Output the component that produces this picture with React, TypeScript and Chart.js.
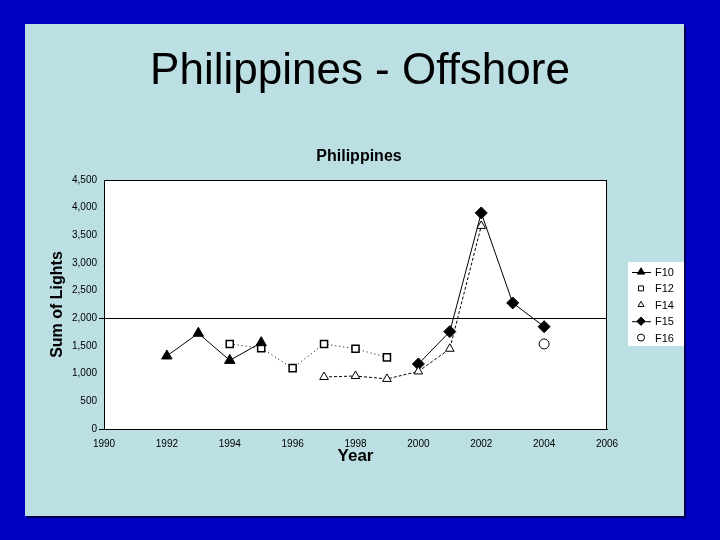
import React, { useEffect, useRef } from 'react';
import { Chart, registerables } from 'chart.js';
import { drawPoint } from 'chart.js/helpers';

Chart.register(...registerables);

const slideTitle = 'Philippines - Offshore';
const chartTitle = 'Philippines';
const xTitle = 'Year';
const yTitle = 'Sum of Lights';

const years10 = [1992, 1993, 1994, 1995];
const f10 = [1320, 1730, 1240, 1560];
const years12 = [1994, 1995, 1996, 1997, 1998, 1999];
const f12 = [1537, 1460, 1100, 1537, 1450, 1295];
const years14 = [1997, 1998, 1999, 2000, 2001, 2002];
const f14 = [940, 958, 905, 1040, 1450, 3670];
const years15 = [2000, 2001, 2002, 2003, 2004];
const f15 = [1175, 1760, 3905, 2278, 1850];
const years16 = [2004];
const f16 = [1537];

const seriesNames = ['F10', 'F12', 'F14', 'F15', 'F16'];

const toPts = (xs: number[], ys: number[]) => xs.map((x, i) => ({ x, y: ys[i] }));

const BLUE = '#0000C4';
const PANEL = '#BCDFE3';

const App = () => {
  const ref = useRef<HTMLCanvasElement | null>(null);

  useEffect(() => {
    document.body.style.margin = '0';
    const canvas = ref.current;
    if (!canvas) return;

    const bgPlugin = {
      id: 'slideBg',
      beforeDraw(chart: any) {
        const { ctx, chartArea } = chart;
        ctx.save();
        ctx.fillStyle = BLUE;
        ctx.fillRect(0, 0, 720, 540);
        ctx.fillStyle = '#000050';
        ctx.fillRect(27, 26, 659, 492);
        ctx.fillStyle = PANEL;
        ctx.fillRect(25, 24, 659, 492);
        ctx.fillStyle = '#ffffff';
        ctx.fillRect(chartArea.left, chartArea.top, chartArea.right - chartArea.left, chartArea.bottom - chartArea.top);
        ctx.fillStyle = '#000';
        ctx.textAlign = 'center';
        ctx.textBaseline = 'alphabetic';
        ctx.font = '44px "Liberation Sans", Arial, sans-serif';
        ctx.fillText(slideTitle, 360, 84);
        ctx.font = 'bold 16px "Liberation Sans", Arial, sans-serif';
        ctx.fillText(chartTitle, 359, 161);
        ctx.restore();
      },
      afterDraw(chart: any) {
        const { ctx, chartArea } = chart;
        ctx.save();
        ctx.strokeStyle = '#000';
        ctx.lineWidth = 1;
        ctx.strokeRect(chartArea.left + 0.5, chartArea.top + 0.5, chartArea.right - chartArea.left - 1, chartArea.bottom - chartArea.top);
        // legend
        const lx = 628, ly = 262, lw = 56, lh = 84;
        ctx.fillStyle = '#ffffff';
        ctx.fillRect(lx, ly, lw, lh);
        ctx.font = '11px "Liberation Sans", Arial, sans-serif';
        ctx.textAlign = 'left';
        ctx.textBaseline = 'middle';
        chart.data.datasets.forEach((ds: any, i: number) => {
          const cy = ly + 10 + i * 16.4;
          const cx = 641;
          ctx.strokeStyle = '#000';
          ctx.lineWidth = 1;
          if (ds.legendLine) {
            ctx.beginPath();
            ctx.moveTo(632, cy + 0.5);
            ctx.lineTo(651, cy + 0.5);
            ctx.stroke();
          }
          ctx.fillStyle = ds.pointBackgroundColor;
          ctx.strokeStyle = '#000';
          drawPoint(ctx, { pointStyle: ds.pointStyle, radius: ds.pointRadius * 0.7, rotation: 0, borderWidth: 1 } as any, cx, cy);
          ctx.fillStyle = '#000';
          ctx.fillText(ds.label, 655, cy + 1);
        });
        ctx.restore();
      },
    };

    const tickFont = { family: '"Liberation Sans", Arial, sans-serif', size: 10 };

    const chart = new Chart(canvas, {
      type: 'line',
      data: {
        datasets: [
          {
            label: seriesNames[0], data: toPts(years10, f10), borderColor: '#000', borderWidth: 1,
            pointStyle: 'triangle', pointRadius: 6, pointBackgroundColor: '#000', pointBorderColor: '#000', legendLine: true,
          } as any,
          {
            label: seriesNames[1], data: toPts(years12, f12), borderColor: '#000', borderWidth: 1, borderDash: [1, 3],
            pointStyle: 'rect', pointRadius: 5, pointBackgroundColor: '#fff', pointBorderColor: '#000', pointBorderWidth: 1.5,
          },
          {
            label: seriesNames[2], data: toPts(years14, f14), borderColor: '#000', borderWidth: 1, borderDash: [3, 2],
            pointStyle: 'triangle', pointRadius: 5, pointBackgroundColor: '#fff', pointBorderColor: '#000', pointBorderWidth: 1,
          },
          {
            label: seriesNames[3], data: toPts(years15, f15), borderColor: '#000', borderWidth: 1,
            pointStyle: 'rectRot', pointRadius: 6, pointBackgroundColor: '#000', pointBorderColor: '#000', legendLine: true,
          } as any,
          {
            label: seriesNames[4], data: toPts(years16, f16), borderColor: '#000', borderWidth: 1, borderDash: [1, 2],
            pointStyle: 'circle', pointRadius: 5, pointBackgroundColor: '#fff', pointBorderColor: '#000', pointBorderWidth: 1,
          },
        ],
      },
      options: {
        responsive: false,
        animation: false,
        devicePixelRatio: 1,
        layout: { padding: { left: 44, right: 113, top: 180, bottom: 71 } },
        plugins: {
          legend: { display: false },
          title: { display: false },
          tooltip: { enabled: false },
        },
        scales: {
          x: {
            type: 'linear',
            min: 1990,
            max: 2006,
            afterFit: (s: any) => { s.height = 40; },
            grid: { display: false, drawTicks: false },
            border: { display: true, color: '#000', width: 1 },
            ticks: {
              stepSize: 2,
              color: '#000',
              font: tickFont,
              padding: 9,
              maxRotation: 0,
              autoSkip: false,
              callback: (v: any) => String(v),
            },
            title: {
              display: true,
              text: xTitle,
              color: '#000',
              font: { family: '"Liberation Sans", Arial, sans-serif', size: 17, weight: 'bold' },
              padding: { top: 0, bottom: 2 },
            },
          },
          y: {
            type: 'linear',
            min: 0,
            max: 4500,
            afterFit: (s: any) => { s.width = 60; },
            grid: {
              drawTicks: true,
              tickLength: 5,
              color: (c: any) => (c.tick && c.tick.value === 2000 ? '#000' : 'rgba(0,0,0,0)'),
              tickColor: (c: any) => (c.tick && (c.tick.value === 2000 || c.tick.value === 0) ? '#000' : 'rgba(0,0,0,0)'),
            },
            border: { display: true, color: '#000', width: 1 },
            ticks: {
              stepSize: 500,
              color: '#000',
              font: tickFont,
              padding: 2,
              callback: (v: any) => Number(v).toLocaleString('en-US'),
            },
            title: {
              display: true,
              text: yTitle,
              color: '#000',
              font: { family: '"Liberation Sans", Arial, sans-serif', size: 16, weight: 'bold' },
              padding: { top: 4, bottom: 0 },
            },
          },
        },
      },
      plugins: [bgPlugin],
    } as any);

    return () => chart.destroy();
  }, []);

  return <canvas ref={ref} width={720} height={540} style={{ display: 'block' }} />;
};

export default App;
